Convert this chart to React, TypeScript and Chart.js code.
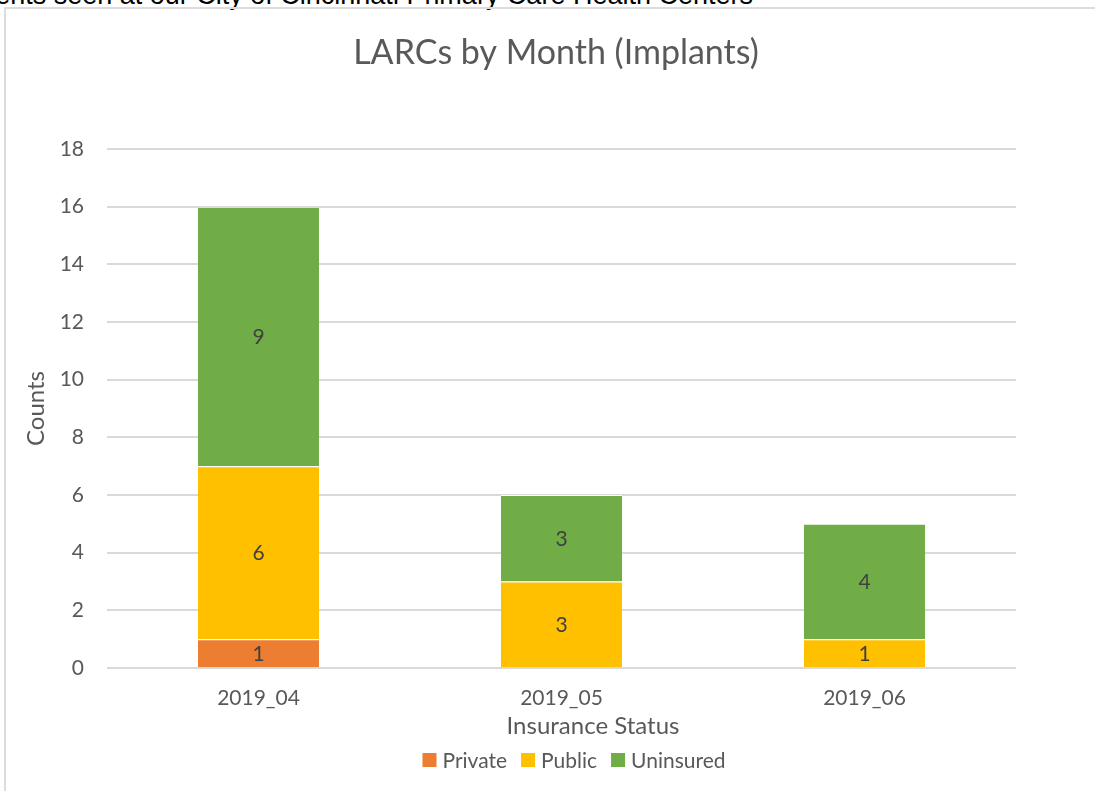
import React, { useEffect, useRef } from 'react';
import { Chart, registerables } from 'chart.js';

Chart.register(...registerables);

const categories = ['2019_04', '2019_05', '2019_06'];
const privateCounts = [1, 0, 0];
const publicCounts = [6, 3, 1];
const uninsuredCounts = [9, 3, 4];
const seriesNames = ['Private', 'Public', 'Uninsured'];
const seriesColors = ['#ED7D31', '#FFC000', '#70AD47'];
const yMin = 0;
const yMax = 18;
const yStep = 2;
const chartTitle = 'LARCs by Month (Implants)';
const xAxisTitle = 'Insurance Status';
const yAxisTitle = 'Counts';
const headerText = 'Patients seen at our City of Cincinnati Primary Care Health Centers';

const FONT = 'Lato, "Open Sans", sans-serif';
const TEXT = '#595959';

const excelText = {
  id: 'excelText',
  afterDatasetsDraw(chart: any) {
    const ctx = chart.ctx;
    ctx.save();
    ctx.font = `21px ${FONT}`;
    ctx.fillStyle = '#404040';
    ctx.textAlign = 'center';
    ctx.textBaseline = 'middle';
    chart.data.datasets.forEach((ds: any, di: number) => {
      const meta = chart.getDatasetMeta(di);
      meta.data.forEach((el: any, i: number) => {
        const v = ds.data[i];
        if (!v) return;
        const p = el.getProps(['x', 'y', 'base'], true);
        ctx.fillText(String(v), p.x, (p.y + p.base) / 2 + 1);
      });
    });
    ctx.restore();
  },
  afterDraw(chart: any) {
    const ctx = chart.ctx;
    ctx.save();
    ctx.fillStyle = TEXT;
    ctx.textAlign = 'center';
    ctx.textBaseline = 'middle';
    // chart title
    ctx.font = `34px ${FONT}`;
    ctx.fillText(chartTitle, 550, 44);
    // x axis title
    ctx.font = `24px ${FONT}`;
    ctx.fillText(xAxisTitle, 587, 717);
    // legend
    ctx.font = `21px ${FONT}`;
    const box = 14;
    const gapBoxText = 6;
    const gapItem = 14;
    const items = chart.data.datasets.map((ds: any) => ({
      label: ds.label,
      color: ds.backgroundColor,
      w: ctx.measureText(ds.label).width,
    }));
    const total = items.reduce((s: number, it: any) => s + box + gapBoxText + it.w, 0) + gapItem * (items.length - 1);
    let x = 568 - total / 2;
    const cy = 751;
    ctx.textAlign = 'left';
    items.forEach((it: any) => {
      ctx.fillStyle = it.color;
      ctx.fillRect(x, cy - box / 2, box, box);
      x += box + gapBoxText;
      ctx.fillStyle = TEXT;
      ctx.fillText(it.label, x, cy + 1);
      x += it.w + gapItem;
    });
    ctx.restore();
  },
};

export default function App() {
  const ref = useRef<HTMLCanvasElement | null>(null);

  useEffect(() => {
    if (!ref.current) return;
    const seriesData = [privateCounts, publicCounts, uninsuredCounts];
    const chart = new Chart(ref.current, {
      type: 'bar',
      data: {
        labels: categories,
        datasets: seriesNames.map((name, i) => ({
          label: name,
          data: seriesData[i],
          backgroundColor: seriesColors[i],
          borderColor: '#ffffff',
          borderWidth: { top: 1, right: 0, bottom: 0, left: 0 },
          borderSkipped: false,
          categoryPercentage: 1,
          barPercentage: 0.4,
        })),
      },
      options: {
        animation: false,
        responsive: false,
        devicePixelRatio: 1,
        layout: { padding: { top: 140, right: 79, bottom: 0, left: 0 } },
        plugins: {
          legend: { display: false },
          title: { display: false },
          tooltip: { enabled: false },
        },
        scales: {
          x: {
            stacked: true,
            grid: { display: false, drawTicks: false },
            border: { display: false },
            ticks: { color: TEXT, font: { family: FONT, size: 21 }, padding: 18 },
            afterFit: (s: any) => { s.height = 123; },
          },
          y: {
            stacked: true,
            min: yMin,
            max: yMax,
            ticks: { stepSize: yStep, color: TEXT, font: { family: FONT, size: 21 }, padding: 23 },
            grid: { color: '#d9d9d9', lineWidth: 2, drawTicks: false },
            border: { display: false },
            title: {
              display: true,
              text: yAxisTitle,
              color: TEXT,
              font: { family: FONT, size: 24 },
              padding: { top: 16, bottom: 0 },
            },
            afterFit: (s: any) => { s.width = 101; },
          },
        },
      },
      plugins: [excelText],
    });
    return () => chart.destroy();
  }, []);

  return (
    <div style={{ position: 'fixed', left: 0, top: 0, width: 1095, height: 791, overflow: 'hidden', background: '#fff' }}>
      <div
        style={{
          position: 'absolute',
          right: 342,
          top: -18,
          whiteSpace: 'nowrap',
          font: '27px "Liberation Sans", Arial, sans-serif',
          lineHeight: '27px',
          color: '#000',
        }}
      >
        {headerText}
      </div>
      <div
        style={{
          position: 'absolute',
          left: 4,
          top: 7,
          width: 1200,
          height: 900,
          border: '2px solid #dcdcdc',
          boxSizing: 'border-box',
        }}
      />
      <canvas ref={ref} width={1089} height={782} style={{ position: 'absolute', left: 6, top: 9, width: 1089, height: 782 }} />
    </div>
  );
}
